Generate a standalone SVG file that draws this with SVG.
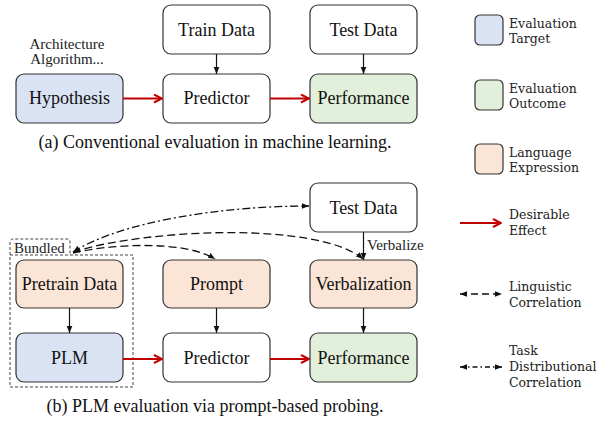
<svg xmlns="http://www.w3.org/2000/svg" width="606" height="421" viewBox="0 0 606 421">
<defs>
<marker id="ab" viewBox="0 0 10 10" refX="10" refY="5" markerWidth="7" markerHeight="7" markerUnits="userSpaceOnUse" orient="auto-start-reverse"><path d="M0,1 L10,5 L0,9 z" fill="#111"/></marker>
<marker id="ar" viewBox="0 0 10 10" refX="9" refY="5" markerWidth="10" markerHeight="10" markerUnits="userSpaceOnUse" orient="auto"><path d="M1,1 L9,5 L1,9" fill="none" stroke="#c00000" stroke-width="2"/></marker>
</defs>

<g font-family="Liberation Serif" font-size="18" fill="#111" text-anchor="middle">
<g id="train-a"><rect stroke="#333" stroke-width="1.2" fill="#fff" x="163" y="5" width="107" height="49" rx="8"/><text x="216.5" y="36">Train Data</text></g>
<g id="test-a"><rect stroke="#333" stroke-width="1.2" fill="#fff" x="310" y="5" width="107" height="49" rx="8"/><text x="363.5" y="36">Test Data</text></g>
<g id="hypothesis"><rect stroke="#333" stroke-width="1.2" fill="#dae3f3" x="16" y="74" width="107" height="49" rx="8"/><text x="69.5" y="104">Hypothesis</text></g>
<g id="predictor-a"><rect stroke="#333" stroke-width="1.2" fill="#fff" x="163" y="74" width="107" height="49" rx="8"/><text x="216.5" y="104">Predictor</text></g>
<g id="performance-a"><rect stroke="#333" stroke-width="1.2" fill="#e2efda" x="310" y="74" width="107" height="49" rx="8"/><text x="363.5" y="104">Performance</text></g>
<g id="arch-label" font-size="15" fill="#222"><text x="67" y="49">Architecture</text><text x="67" y="64">Algorithm...</text></g>
<text x="215" y="148">(a) Conventional evaluation in machine learning.</text>

<g id="bundled">
<path fill="none" stroke="#444" stroke-width="1" stroke-dasharray="3 2" d="M10,255 L10,242 Q10,239 13,239 L67,239 Q70,239 70,242 L70,255"/>
<rect x="10" y="255" width="123" height="132" fill="none" stroke="#444" stroke-width="1" stroke-dasharray="3 2"/>
<text font-size="15" fill="#222" text-anchor="start" x="14" y="253">Bundled</text>
</g>
<g id="test-b"><rect stroke="#333" stroke-width="1.2" fill="#fff" x="310" y="183" width="107" height="49" rx="8"/><text x="363.5" y="214">Test Data</text></g>
<g id="pretrain"><rect stroke="#333" stroke-width="1.2" fill="#fbe5d6" x="16" y="260" width="107" height="48" rx="8"/><text x="69.5" y="290">Pretrain Data</text></g>
<g id="prompt"><rect stroke="#333" stroke-width="1.2" fill="#fbe5d6" x="163" y="260" width="107" height="48" rx="8"/><text x="216.5" y="290">Prompt</text></g>
<g id="verbalization"><rect stroke="#333" stroke-width="1.2" fill="#fbe5d6" x="310" y="260" width="107" height="48" rx="8"/><text x="363.5" y="290">Verbalization</text></g>
<g id="plm"><rect stroke="#333" stroke-width="1.2" fill="#dae3f3" x="16" y="333" width="107" height="49" rx="8"/><text x="69.5" y="364">PLM</text></g>
<g id="predictor-b"><rect stroke="#333" stroke-width="1.2" fill="#fff" x="163" y="333" width="107" height="49" rx="8"/><text x="216.5" y="364">Predictor</text></g>
<g id="performance-b"><rect stroke="#333" stroke-width="1.2" fill="#e2efda" x="310" y="333" width="107" height="49" rx="8"/><text x="363.5" y="364">Performance</text></g>
<text x="215" y="412">(b) PLM evaluation via prompt-based probing.</text>
<text font-size="15" fill="#222" text-anchor="start" x="367" y="250">Verbalize</text>
</g>

<g id="connectors" fill="none">
<g stroke="#111" stroke-width="1.2" marker-end="url(#ab)">
<line x1="216.5" y1="54" x2="216.5" y2="74"/>
<line x1="363.5" y1="54" x2="363.5" y2="74"/>
<line x1="363.5" y1="232" x2="363.5" y2="260"/>
<line x1="69.5" y1="308" x2="69.5" y2="333"/>
<line x1="216.5" y1="308" x2="216.5" y2="333"/>
<line x1="363.5" y1="308" x2="363.5" y2="333"/>
</g>
<g stroke="#c00000" stroke-width="2" marker-end="url(#ar)">
<line x1="123" y1="98.5" x2="162" y2="98.5"/>
<line x1="270" y1="98.5" x2="309" y2="98.5"/>
<line x1="123" y1="359" x2="162" y2="359"/>
<line x1="270" y1="359" x2="309" y2="359"/>
</g>
<path stroke="#111" stroke-width="1.3" stroke-dasharray="8 3 2 3" d="M73,252 C120,222 220,206 309,206" marker-start="url(#ab)" marker-end="url(#ab)"/>
<path stroke="#111" stroke-width="1.3" stroke-dasharray="8 4" d="M73,252 C150,228 320,222 363,259" marker-start="url(#ab)" marker-end="url(#ab)"/>
<path stroke="#111" stroke-width="1.3" stroke-dasharray="8 4" d="M73,253 C110,244 185,240 215,259" marker-end="url(#ab)"/>
</g>

<g id="legend" font-family="DejaVu Serif" font-size="12.5" fill="#222">
<rect stroke="#333" stroke-width="1.2" fill="#dae3f3" x="475" y="15" width="28" height="30" rx="5"/>
<text x="509" y="28">Evaluation</text><text x="509" y="43">Target</text>
<rect stroke="#333" stroke-width="1.2" fill="#e2efda" x="475" y="80" width="28" height="30" rx="5"/>
<text x="509" y="93">Evaluation</text><text x="509" y="108">Outcome</text>
<rect stroke="#333" stroke-width="1.2" fill="#fbe5d6" x="475" y="144" width="28" height="30" rx="5"/>
<text x="509" y="157">Language</text><text x="509" y="172">Expression</text>
<line stroke="#c00000" stroke-width="2" x1="460" y1="223" x2="501" y2="223" marker-end="url(#ar)"/>
<text x="509" y="219">Desirable</text><text x="509" y="235">Effect</text>
<line stroke="#111" stroke-width="1.3" stroke-dasharray="7 4" x1="460" y1="294" x2="502" y2="294" marker-start="url(#ab)" marker-end="url(#ab)"/>
<text x="509" y="291">Linguistic</text><text x="509" y="307">Correlation</text>
<line stroke="#111" stroke-width="1.3" stroke-dasharray="5 3 1.5 3" x1="460" y1="367" x2="502" y2="367" marker-start="url(#ab)" marker-end="url(#ab)"/>
<text x="509" y="355">Task</text><text x="509" y="371">Distributional</text><text x="509" y="387">Correlation</text>
</g>
</svg>
